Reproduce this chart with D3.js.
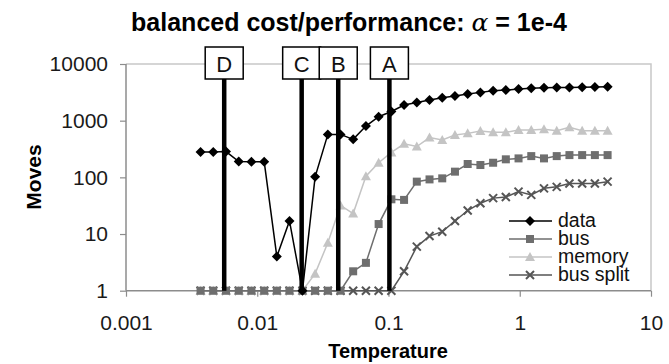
<!DOCTYPE html>
<html><head><meta charset="utf-8">
<script src="https://cdn.jsdelivr.net/npm/d3@7"></script>
<style>body{margin:0;background:#fff}svg{display:block;font-family:"Liberation Sans",Arial,Helvetica,sans-serif}</style>
</head><body><svg id="c" width="669" height="364"></svg>
<script>
// ---- data ----
const temperature = [0.0037,0.00462,0.00578,0.00723,0.00903,0.0113,0.0141,0.0176,0.0221,0.0276,0.0345,0.0431,0.0538,0.0673,0.0841,0.1052,0.1314,0.1643,0.2054,0.2567,0.3209,0.4011,0.5014,0.6268,0.7835,0.979,1.224,1.530,1.913,2.391,2.989,3.736,4.67];
const dataMoves = [280,280,285,190,188,188,4,17,1,102,573,573,468,804,1172,1450,1885,2100,2308,2535,2716,2944,3157,3367,3466,3607,3715,3805,3866,3866,3870,3915,3963];
const busMoves = [1,1,1,1,1,1,1,1,1,1,1,1,2.2,3.1,15,41,40,84,92,96,126,172,165,181,208,216,237,216,237,247,247,247,247];
const memoryMoves = [1,1,1,1,1,1,1,1,1,2.0,7,32,23,105,181,275,390,350,503,455,557,597,656,622,622,683,683,703,664,762,664,664,664];
const busSplitMoves = [1,1,1,1,1,1,1,1,1,1,1,1,1,1,1,1,2.2,6,9.2,11,17,26,35,43,45,56,49,64,68,78,78,78,84];
const markerLabels = ["D","C","B","A"];
const markerTemps = [0.0056,0.0218,0.0414,0.1016];
const xTickValues = [0.001,0.01,0.1,1,10];
const xTickLabels = ["0.001","0.01","0.1","1","10"];
const yTickValues = [1,10,100,1000,10000];
const yTickLabels = ["1","10","100","1000","10000"];
const seriesNames = ["data","bus","memory","bus split"];

// ---- layout ----
const svg = d3.select("#c");
const L = 126, R = 651, T = 64, B = 290.7;
const x = d3.scaleLog().domain([0.001,10]).range([L,R]);
const y = d3.scaleLog().domain([1,10000]).range([B,T]);

// plot border (top/right)
svg.append("path").attr("d",`M${L},${T}H${R}V${B}`).attr("fill","none").attr("stroke","#c8c8c8").attr("stroke-width",1.5);

// axes
const ya = svg.append("g").attr("transform",`translate(${L},0)`)
  .call(d3.axisLeft(y).tickValues(yTickValues).tickFormat((d,i)=>yTickLabels[i]).tickSize(6).tickPadding(12));
const xa = svg.append("g").attr("transform",`translate(0,${B})`)
  .call(d3.axisBottom(x).tickValues(xTickValues).tickFormat((d,i)=>xTickLabels[i]).tickSize(6).tickPadding(18));
[ya,xa].forEach(g=>{
  g.select(".domain").attr("stroke","#8c8c8c").attr("stroke-width",1.5);
  g.selectAll(".tick line").attr("stroke","#8c8c8c").attr("stroke-width",1.2);
  g.selectAll("text").attr("font-size",21).attr("fill","#1a1a1a").attr("font-family","Liberation Sans, Arial, sans-serif");
});
ya.select(".domain").attr("d",`M0,${B}V${T}`);
xa.select(".domain").attr("d",`M${L},0H${R}`);

// titles
svg.append("text").attr("x",349).attr("y",31).attr("text-anchor","middle").attr("font-size",25).attr("font-weight","bold")
  .html('balanced cost/performance: <tspan font-style="italic" font-weight="normal" font-family="DejaVu Serif, serif">α</tspan> = 1e-4');
svg.append("text").attr("x",388).attr("y",358).attr("text-anchor","middle").attr("font-size",20).attr("font-weight","bold").text("Temperature");
svg.append("text").attr("transform","translate(41,177) rotate(-90)").attr("text-anchor","middle").attr("font-size",21).attr("font-weight","bold").text("Moves");

// series
const series = [
  {name:seriesNames[0], vals:dataMoves, color:"#000", line:"#000", sym:"diamond"},
  {name:seriesNames[1], vals:busMoves, color:"#6e6e6e", line:"#6e6e6e", sym:"square"},
  {name:seriesNames[2], vals:memoryMoves, color:"#c4c4c4", line:"#c4c4c4", sym:"triangle"},
  {name:seriesNames[3], vals:busSplitMoves, color:"#555", line:"#555", sym:"x"}
];
function drawMarker(g, sym, color, cx, cy){
  if(sym==="diamond") g.append("path").attr("d",`M${cx},${cy-5}L${cx+5},${cy}L${cx},${cy+5}L${cx-5},${cy}Z`).attr("fill",color);
  else if(sym==="square") g.append("rect").attr("x",cx-4).attr("y",cy-4).attr("width",8).attr("height",8).attr("fill",color);
  else if(sym==="triangle") g.append("path").attr("d",`M${cx},${cy-5}L${cx+5},${cy+4}L${cx-5},${cy+4}Z`).attr("fill",color);
  else g.append("path").attr("d",`M${cx-4},${cy-4}L${cx+4},${cy+4}M${cx-4},${cy+4}L${cx+4},${cy-4}`).attr("stroke",color).attr("stroke-width",2);
}
const line = d3.line().x((d,i)=>x(temperature[i])).y(d=>y(d));
[3,2,1,0].forEach(k=>{
  const s = series[k];
  const g = svg.append("g");
  g.append("path").datum(s.vals).attr("d",line).attr("fill","none").attr("stroke",s.line).attr("stroke-width",1.5);
  s.vals.forEach((v,i)=>drawMarker(g,s.sym,s.color,x(temperature[i]),y(v)));
});

// vertical markers
markerTemps.forEach((t,i)=>{
  const cx = x(t);
  svg.append("line").attr("x1",cx).attr("x2",cx).attr("y1",79).attr("y2",B).attr("stroke","#000").attr("stroke-width",4.5);
  svg.append("rect").attr("x",cx-19).attr("y",47).attr("width",38).attr("height",32).attr("fill","#fff").attr("stroke","#000").attr("stroke-width",1.5);
  svg.append("text").attr("x",cx).attr("y",72).attr("text-anchor","middle").attr("font-size",22).attr("fill","#111").text(markerLabels[i]);
});

// legend
const lg = svg.append("g");
series.forEach((s,i)=>{
  const ly = 221 + i*18;
  lg.append("line").attr("x1",509).attr("x2",552).attr("y1",ly).attr("y2",ly).attr("stroke",s.line).attr("stroke-width",1.5);
  drawMarker(lg,s.sym,s.color,530,ly);
  lg.append("text").attr("x",558).attr("y",ly+6).attr("font-size",19.5).attr("fill","#111").text(s.name);
});
</script></body></html>
